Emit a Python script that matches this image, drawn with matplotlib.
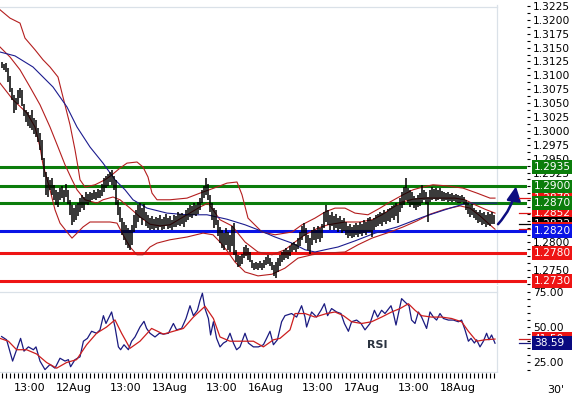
import numpy as np
import matplotlib
matplotlib.use("Agg")
import matplotlib.pyplot as plt
from matplotlib.patches import Rectangle
from matplotlib.ticker import MultipleLocator, FormatStrFormatter, FixedLocator

# 30 min bars, x = bar number, 12Aug 00:00 = 0 (weekend skipped), first bar = -36
highs = [
    1.3124, 1.3120, 1.3122, 1.3113, 1.3099,
    1.3077, 1.3065, 1.3059, 1.3074, 1.3077, 1.3074,
    1.3048, 1.3038, 1.3034, 1.3029, 1.3038, 1.3023, 1.3020,
    1.3005, 1.2996, 1.2984, 1.2951,
    1.2926, 1.2917, 1.2912, 1.2915,
    1.2903, 1.2894, 1.2890, 1.2897, 1.2901, 1.2894, 1.2904, 1.2894,
    1.2876, 1.2867, 1.2861, 1.2867, 1.2870, 1.2879,
    1.2885, 1.2881, 1.2890, 1.2886, 1.2890,
    1.2888, 1.2894, 1.2890, 1.2895, 1.2894, 1.2904,
    1.2915, 1.2919, 1.2922, 1.2926, 1.2930, 1.2919,
    1.2912, 1.2876, 1.2863, 1.2843, 1.2836,
    1.2831, 1.2825, 1.2822, 1.2831,
    1.2849, 1.2858, 1.2867, 1.2870, 1.2861, 1.2868, 1.2854,
    1.2849, 1.2843, 1.2847, 1.2841, 1.2845, 1.2843, 1.2849, 1.2841, 1.2845, 1.2850,
    1.2843, 1.2847, 1.2840, 1.2849, 1.2847, 1.2854, 1.2850, 1.2852, 1.2849, 1.2858,
    1.2861, 1.2867, 1.2865, 1.2870, 1.2867, 1.2872, 1.2879,
    1.2894, 1.2901, 1.2915, 1.2904,
    1.2885, 1.2870, 1.2861, 1.2858,
    1.2840, 1.2827, 1.2822, 1.2816, 1.2825, 1.2818, 1.2813, 1.2829, 1.2834,
    1.2786, 1.2777, 1.2775, 1.2778,
    1.2791, 1.2795, 1.2789, 1.2782,
    1.2768, 1.2762, 1.2764, 1.2762, 1.2766, 1.2762, 1.2768,
    1.2773, 1.2777, 1.2771, 1.2764,
    1.2759, 1.2764, 1.2771, 1.2777,
    1.2782, 1.2786, 1.2789, 1.2786, 1.2793,
    1.2798, 1.2800, 1.2796, 1.2807, 1.2818,
    1.2829, 1.2834, 1.2825,
    1.2813, 1.2807, 1.2822,
    1.2827, 1.2822, 1.2829, 1.2825, 1.2832,
    1.2854, 1.2867, 1.2858,
    1.2849, 1.2854, 1.2847, 1.2850, 1.2843, 1.2847, 1.2840, 1.2843,
    1.2836, 1.2829, 1.2832, 1.2827, 1.2831,
    1.2834, 1.2831, 1.2836, 1.2832, 1.2840, 1.2836, 1.2843, 1.2845, 1.2840, 1.2843,
    1.2849, 1.2850, 1.2854, 1.2852, 1.2858, 1.2854, 1.2859, 1.2861, 1.2865, 1.2867, 1.2870,
    1.2867, 1.2879, 1.2890,
    1.2899, 1.2915,
    1.2897, 1.2894, 1.2890,
    1.2883, 1.2879, 1.2885, 1.2888,
    1.2903, 1.2894, 1.2890, 1.2881,
    1.2894, 1.2899, 1.2895, 1.2897, 1.2894, 1.2897, 1.2892,
    1.2890, 1.2888, 1.2890, 1.2886, 1.2888, 1.2885, 1.2886, 1.2885, 1.2883, 1.2885, 1.2881,
    1.2876, 1.2870, 1.2867, 1.2868,
    1.2861, 1.2858, 1.2854, 1.2858, 1.2852, 1.2854, 1.2849, 1.2854, 1.2850, 1.2854, 1.2849,
]
lows = [
    1.3113, 1.3110, 1.3106, 1.3088, 1.3070,
    1.3056, 1.3032, 1.3038, 1.3048, 1.3059, 1.3045,
    1.3027, 1.3016, 1.3009, 1.3005, 1.3002, 1.2994, 1.2989,
    1.2980, 1.2966, 1.2948, 1.2917,
    1.2885, 1.2881, 1.2894, 1.2885,
    1.2876, 1.2867, 1.2863, 1.2876, 1.2879, 1.2872, 1.2881, 1.2868,
    1.2849, 1.2831, 1.2836, 1.2840, 1.2847, 1.2854,
    1.2861, 1.2858, 1.2868, 1.2867, 1.2872,
    1.2876, 1.2877, 1.2876, 1.2879, 1.2879, 1.2883,
    1.2890, 1.2897, 1.2901, 1.2908, 1.2903, 1.2894,
    1.2867, 1.2849, 1.2836, 1.2813, 1.2804,
    1.2795, 1.2789, 1.2786, 1.2795,
    1.2818, 1.2825, 1.2836, 1.2843, 1.2831, 1.2840, 1.2829,
    1.2825, 1.2822, 1.2823, 1.2822, 1.2825, 1.2822, 1.2827, 1.2822, 1.2823, 1.2829,
    1.2823, 1.2825, 1.2822, 1.2827, 1.2827, 1.2831, 1.2829, 1.2832, 1.2827, 1.2836,
    1.2840, 1.2845, 1.2843, 1.2849, 1.2847, 1.2850, 1.2858,
    1.2870, 1.2879, 1.2885, 1.2876,
    1.2854, 1.2840, 1.2825, 1.2831,
    1.2811, 1.2798, 1.2789, 1.2786, 1.2795, 1.2786, 1.2782, 1.2793, 1.2777,
    1.2764, 1.2755, 1.2757, 1.2760,
    1.2771, 1.2775, 1.2768, 1.2764,
    1.2753, 1.2750, 1.2751, 1.2750, 1.2753, 1.2750, 1.2753,
    1.2759, 1.2760, 1.2757, 1.2750,
    1.2739, 1.2735, 1.2746, 1.2757,
    1.2764, 1.2768, 1.2771, 1.2769, 1.2775,
    1.2782, 1.2786, 1.2782, 1.2787, 1.2793,
    1.2804, 1.2811, 1.2798,
    1.2786, 1.2778, 1.2795,
    1.2804, 1.2798, 1.2805, 1.2800, 1.2807,
    1.2825, 1.2836, 1.2831,
    1.2822, 1.2829, 1.2822, 1.2825, 1.2818, 1.2823, 1.2816, 1.2820,
    1.2813, 1.2807, 1.2811, 1.2807, 1.2809,
    1.2813, 1.2809, 1.2814, 1.2811, 1.2816, 1.2813, 1.2818, 1.2818, 1.2809, 1.2822,
    1.2827, 1.2829, 1.2832, 1.2829, 1.2836, 1.2832, 1.2838, 1.2836, 1.2843, 1.2840, 1.2847,
    1.2834, 1.2854, 1.2861,
    1.2867, 1.2876,
    1.2870, 1.2863, 1.2867,
    1.2861, 1.2858, 1.2863, 1.2865,
    1.2870, 1.2876, 1.2868, 1.2836,
    1.2872, 1.2876, 1.2877, 1.2874, 1.2876, 1.2877, 1.2874,
    1.2874, 1.2876, 1.2872, 1.2874, 1.2872, 1.2874, 1.2872, 1.2870, 1.2870, 1.2872, 1.2868,
    1.2858, 1.2850, 1.2845, 1.2849,
    1.2843, 1.2840, 1.2834, 1.2836, 1.2831, 1.2832, 1.2827, 1.2831, 1.2829, 1.2832, 1.2832,
]
last_close = 1.2832

levels = [1.2935, 1.2900, 1.2870, 1.2820, 1.2780, 1.2730]
level_colors = ["#0b7d0b", "#0b7d0b", "#0b7d0b", "#0a14e6", "#ee1414", "#ee1414"]

# bollinger bands and moving average, read at sample points
bb_up_x = [-37, -32, -27, -24.5, -19.5, -15.5, -12, -8, -6, -2, 0.5, 2, 3, 5.5, 10.5, 15.5,
           19, 23, 26.5, 31.5, 34.5, 37, 39, 41.5, 48, 56.5, 63, 71.5, 76.5, 81.5, 84, 87,
           94, 100.5, 109, 114, 120.5, 125.5, 130.5, 135.5, 140.5, 147, 153, 158, 164.5,
           169.5, 174.5, 179.5, 186.5, 194.5, 201.5, 208, 210.5]
bb_up = [1.3218, 1.3203, 1.3194, 1.3167, 1.3146, 1.3128, 1.3115, 1.3097, 1.3068, 1.3011,
         1.2966, 1.2935, 1.2912, 1.2899, 1.2903, 1.2912, 1.2921, 1.2933, 1.2942, 1.2944,
         1.2935, 1.2917, 1.2888, 1.2876, 1.2876, 1.2879, 1.2888, 1.2899, 1.2906, 1.2908,
         1.2885, 1.2843, 1.2818, 1.2813, 1.2818, 1.2831, 1.2843, 1.2854, 1.2861, 1.2861,
         1.2852, 1.2849, 1.2861, 1.2872, 1.2885, 1.2894, 1.2899, 1.2903, 1.2901, 1.2897,
         1.2888, 1.2879, 1.2879]
bb_mid_x = [-37, -32, -27, -22, -17, -12, -8, -4.5, -1, 1.5, 5.5, 11.5, 14.5, 19.5, 23, 28,
            33, 38, 43, 48, 56.5, 63, 67, 69.5, 73, 79, 85.5, 92, 99, 105.5, 110.5, 115.5,
            122, 127, 135.5, 143, 149, 154, 159, 164, 169.5, 175.5, 183, 190.5, 195.5,
            200.5, 205.5, 210.5]
bb_mid = [1.3151, 1.3133, 1.3110, 1.3079, 1.3047, 1.3007, 1.2971, 1.2939, 1.2912, 1.2894,
          1.2876, 1.2870, 1.2876, 1.2881, 1.2876, 1.2861, 1.2845, 1.2832, 1.2829, 1.2831,
          1.2849, 1.2863, 1.2870, 1.2858, 1.2840, 1.2829, 1.2800, 1.2782, 1.2777, 1.2786,
          1.2800, 1.2813, 1.2825, 1.2831, 1.2836, 1.2836, 1.2840, 1.2849, 1.2861, 1.2872,
          1.2877, 1.2879, 1.2879, 1.2879, 1.2876, 1.2867, 1.2859, 1.2852]
bb_lo_x = [-37, -30.5, -23.5, -19.5, -17, -15.5, -12, -9.5, -7, -3.5, -1, 1.5, 4.5, 8, 18,
           21.5, 24.5, 28, 31.5, 34.5, 38, 41.5, 48, 56.5, 64.5, 69.5, 73, 77, 80.5, 85.5,
           92, 99, 105.5, 112, 119, 125.5, 135.5, 142, 149, 158, 164.5, 171.5, 178, 185.5,
           193, 198, 203, 207, 210.5]
bb_lo = [1.3086, 1.3056, 1.3032, 1.3007, 1.2971, 1.2939, 1.2894, 1.2858, 1.2834, 1.2818,
         1.2807, 1.2816, 1.2827, 1.2836, 1.2836, 1.2834, 1.2813, 1.2791, 1.2777, 1.2777,
         1.2791, 1.2798, 1.2804, 1.2809, 1.2816, 1.2813, 1.2800, 1.2782, 1.2764, 1.2746,
         1.2739, 1.2742, 1.2753, 1.2771, 1.2777, 1.2780, 1.2782, 1.2795, 1.2807, 1.2818,
         1.2827, 1.2838, 1.2850, 1.2859, 1.2865, 1.2861, 1.2847, 1.2834, 1.2823]
ma_x = [-37, -29.5, -20.5, -10.5, -3.5, 1.5, 8, 14.5, 20.5, 25.5, 29.5, 36.5, 46.5, 56.5,
        66.5, 76.5, 85.5, 92, 100.5, 109, 115.5, 120.5, 125.5, 132, 140.5, 150.5, 161.5,
        174.5, 188, 196.5, 211.5]
ma = [1.3142, 1.3135, 1.3115, 1.3079, 1.3043, 1.3007, 1.2971, 1.2942, 1.2912, 1.2894,
      1.2876, 1.2861, 1.2852, 1.2849, 1.2849, 1.2841, 1.2831, 1.2822, 1.2809, 1.2798,
      1.2786, 1.2782, 1.2786, 1.2791, 1.2802, 1.2816, 1.2827, 1.2845, 1.2861, 1.2870,
      1.2870]

# RSI and its signal line
rsi_x = [-36.2, -33.7, -30.7, -28.7, -26.7, -25, -22.8, -20.3, -19, -17, -14.5, -12, -9.5,
         -7, -4.5, -2.8, -1.7, 0.5, 3, 4.7, 6.7, 8.8, 11.3, 13, 14.7, 16, 17.2, 18.8, 20.5,
         22.2, 23.3, 25, 27.2, 28.8, 30.5, 33, 35, 36.3, 38, 40.5, 42.7, 44.7, 47.2, 49.7,
         51.3, 53.8, 56, 58, 59.7, 61.7, 63, 64.2, 65.5, 67.2, 68.3, 69.7, 71.3, 73, 74.7,
         76.3, 78, 79.7, 81.3, 83, 85.5, 87.2, 89.7, 92.2, 94.7, 96.3, 98, 99.7, 101.7,
         103.8, 105.5, 108.8, 111.3, 113.8, 115.5, 116.3, 118.8, 121.3, 123.5, 125.2, 126.8,
         128.8, 131.3, 133.5, 135.2, 137.2, 138.8, 141.3, 143.5, 145.5, 148, 150.2, 151.8,
         153.8, 155.5, 158.5, 159.7, 161, 162.2, 163.8, 165.5, 167.5, 168.8, 170.5, 172.2,
         173.8, 176.3, 178, 179.7, 181.3, 183, 184.7, 187.2, 189.7, 192.2, 193.8, 195.5,
         197.2, 198.5, 200.2, 201.3, 203, 204.7, 206.3, 207.5, 208.8, 210.5]
rsi_val = [43.3, 41, 26, 34, 42, 33, 36, 34, 36, 26, 20, 23.6, 21, 28, 26, 27, 22, 27, 29,
           40, 42, 47, 45.6, 48, 58, 52.5, 56, 60.6, 50, 36, 34, 37.5, 34, 40, 43, 50, 54,
           49, 45.6, 43, 45.6, 45, 45.6, 52.5, 48, 49, 56, 65, 58, 61.8, 68.7, 73.8, 63, 56,
           44.4, 53.7, 42, 36, 38.7, 40, 45.6, 38.7, 34, 36, 45.6, 38.7, 36, 36, 37.5, 42,
           47, 37.5, 41, 53.7, 58, 59.5, 57, 65, 57, 50, 60.6, 57, 61.8, 66.4, 58, 63, 60.6,
           59.5, 52.5, 47, 53.7, 54.9, 52.5, 48, 52.5, 61.8, 57, 61.8, 59.5, 65, 59.5, 51.4,
           59.5, 70, 67.6, 65, 54.9, 52.5, 60.6, 57, 49, 60.6, 57, 54.9, 59.5, 56, 54.9,
           54.9, 53.7, 54.9, 48, 40, 42, 38.7, 41, 36, 40, 45.6, 41, 44.4, 38.59]
sig_x = [-37, -32.8, -28.7, -23.7, -18.7, -13.7, -8.7, -3.7, 1.3, 6.3, 11.3, 16.3, 20.5,
         23.8, 28, 33, 38.8, 44.7, 49.7, 54.7, 59.7, 65.5, 69.7, 73, 78, 83, 89.7, 94.7,
         99.7, 103, 108, 110.5, 115.5, 120.5, 126.3, 130.5, 134.7, 138.8, 143.8, 148.8,
         153.8, 158.8, 163, 167.2, 170.5, 173.8, 178.8, 183.8, 188.8, 193.8, 197.2, 201.3,
         205.5, 210.5]
sig_val = [42, 40, 34, 34, 31, 25, 21, 25, 27, 37.5, 45.6, 50, 55, 45.6, 35, 40, 49, 45, 47,
           49, 57, 64.6, 56, 43, 40, 40, 40, 36, 41, 42, 48, 59.5, 59.5, 57, 59.5, 60.6, 58,
           53.7, 52.5, 53.7, 57, 60.6, 63, 66.4, 61.8, 58, 57, 57, 56, 53.7, 47, 40, 41, 41.5]

day_ticks = [-22, 0, 26, 48, 74, 96, 122, 144, 170, 192]
day_labels = ["13:00", "12Aug", "13:00", "13Aug", "13:00", "16Aug",
              "13:00", "17Aug", "13:00", "18Aug"]

W, H = 572, 398
fig = plt.figure(figsize=(W / 100, H / 100), dpi=100)
fig.patch.set_facecolor("white")


def box(left, top, right, bottom):
    return [left / W, 1 - bottom / H, (right - left) / W, (bottom - top) / H]


ax = fig.add_axes(box(0, 0, 527, 285))
ar = fig.add_axes(box(0, 286, 527, 373))
ax.set_zorder(3)
ar.set_zorder(2)
xmin, xmax = -37, 226.5
ax.set_xlim(xmin, xmax)
ax.set_ylim(1.27226, 1.32356)
ar.set_xlim(xmin, xmax)
ar.set_ylim(17.6, 78.9)
for a in (ax, ar):
    for s in a.spines.values():
        s.set_visible(False)

idx = np.arange(len(highs)) - 36
grey = "#dae1e8"
edge = (idx[-1] + 1.5 - xmin) / (xmax - xmin)

# panel frame lines
ax.axhline(1.3223, xmax=edge, color=grey, lw=0.9, zorder=1)
ax.axvline(idx[-1] + 1.5, ymax=1 - 5 / 285, color=grey, lw=0.9, zorder=1)
ar.axhline(74.6, xmax=edge, color=grey, lw=0.9, zorder=1)
ar.axhline(18.3, xmax=edge, color=grey, lw=0.9, zorder=1)
ar.axvline(idx[-1] + 1.5, color=grey, lw=0.9, zorder=1)

# support / resistance
for v, c in zip(levels, level_colors):
    ax.axhline(v, color=c, lw=2.2, zorder=2)

ax.plot(bb_up_x, bb_up, color="#b41e1e", lw=0.8, zorder=3)
ax.plot(bb_mid_x, bb_mid, color="#b41e1e", lw=0.8, zorder=3)
ax.plot(bb_lo_x, bb_lo, color="#b41e1e", lw=0.8, zorder=3)
ax.plot(ma_x, ma, color="#1c1c8f", lw=0.8, zorder=3)

ax.vlines(idx, lows, highs, color="black", lw=1.1, zorder=4)

ax.annotate("", xy=(idx[-1] + 11, levels[1]), xytext=(idx[-1] + 2, last_close),
            arrowprops=dict(arrowstyle="-|>,head_length=0.6,head_width=0.3",
                            color="#0d0d80", lw=1.8, mutation_scale=14,
                            connectionstyle="arc3,rad=0.15", shrinkA=0, shrinkB=0),
            zorder=5)

ar.plot(rsi_x, rsi_val, color="#1a1a80", lw=0.9, zorder=3)
ar.plot(sig_x, sig_val, color="#cc1e1e", lw=0.9, zorder=4)
ar.text(151.5, 37.5, "RSI", ha="center", va="center", fontsize=8,
        fontweight="bold", color="#2b3340")

# right axes
ax.yaxis.tick_right()
ax.yaxis.set_major_locator(MultipleLocator(0.0025))
ax.yaxis.set_minor_locator(MultipleLocator(0.00125))
ax.yaxis.set_major_formatter(FormatStrFormatter("%.4f"))
ax.tick_params(axis="y", which="both", length=2.5, width=0.8, pad=2, labelsize=7.7)
ax.tick_params(axis="x", bottom=False, labelbottom=False)

ar.yaxis.tick_right()
ar.yaxis.set_major_locator(FixedLocator([25, 50, 75]))
ar.yaxis.set_minor_locator(MultipleLocator(5))
ar.yaxis.set_major_formatter(FormatStrFormatter("%.2f"))
ar.tick_params(axis="y", which="both", length=2.5, width=0.8, pad=2, labelsize=7.7)

ar.xaxis.set_major_locator(FixedLocator(day_ticks))
ar.xaxis.set_minor_locator(FixedLocator(list(range(-36, int(idx[-1]) + 1, 2))))
ar.set_xticklabels(day_labels)
ar.tick_params(axis="x", which="both", length=3.5, width=0.8, pad=4, labelsize=8)

fig.text(556 / W, 1 - 390 / H, "30'", ha="center", va="center", fontsize=8)


def tag(a, v, txt, color, z):
    y0, y1 = a.get_ylim()
    h = 13.5 * (y1 - y0) / (a.get_position().height * H)
    tr = a.get_yaxis_transform()
    a.add_patch(Rectangle((1 + 5 / 527, v - h / 2), 40 / 527, h, transform=tr,
                          facecolor=color, edgecolor="none", clip_on=False, zorder=z))
    a.text(1 + 7 / 527, v, txt, transform=tr, ha="left", va="center", color="white",
           fontsize=7.7, clip_on=False, zorder=z)


def mark(a, v, color):
    a.plot([1 - 8 / 527, 1 + 3 / 527], [v, v], transform=a.get_yaxis_transform(),
           color=color, lw=0.9, clip_on=False, zorder=5)


for v, c in [(bb_up[-1], "#dd1414"), (bb_mid[-1], "#dd1414"), (bb_lo[-1], "#dd1414"),
             (last_close, "black")]:
    mark(ax, v, c)
tag(ax, bb_up[-1], "%.4f" % bb_up[-1], "#ee1414", 6)
tag(ax, bb_mid[-1], "%.4f" % bb_mid[-1], "#ee1414", 6.1)
tag(ax, last_close, "%.4f" % last_close, "black", 6.2)
tag(ax, bb_lo[-1], "%.4f" % bb_lo[-1], "#ee1414", 6.3)
for i, (v, c) in enumerate(zip(levels, level_colors)):
    tag(ax, v, "%.4f" % v, c, 7 + i * 0.1)

mark(ar, sig_val[-1], "#cc1e1e")
mark(ar, rsi_val[-1], "#1a1a80")
tag(ar, sig_val[-1], "%.2f" % sig_val[-1], "#ee1414", 6)
tag(ar, rsi_val[-1], "%.2f" % rsi_val[-1], "#0a0a80", 6.1)

fig.savefig("out.png", dpi=100, facecolor="white")
